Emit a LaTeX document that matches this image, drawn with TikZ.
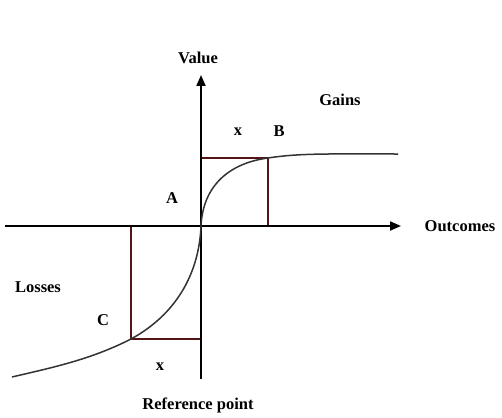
\documentclass[tikz,border=0pt]{standalone}
\usepackage{fontspec}
\setmainfont{Liberation Serif}
\usetikzlibrary{arrows.meta}
\definecolor{boxred}{RGB}{85,20,22}
\begin{document}
\begin{tikzpicture}[x=1pt,y=-1pt,
  lbl/.style={font=\bfseries\fontsize{16.5}{18}\selectfont,inner sep=0pt},
  axis/.style={line width=2pt,-{Triangle[length=11pt,width=9pt]}},
  boxline/.style={line width=2.2pt,boxred},
  curve/.style={line width=1.5pt,black!80}]
\useasboundingbox (0,0) rectangle (502,417);
\coordinate (O) at (201,226);
\coordinate (ybot) at (201,379);
\coordinate (ytop) at (201,75);
\coordinate (xl) at (5,226);
\coordinate (xr) at (401,226);
\coordinate (B) at (268,158);
\coordinate (Bt) at (201,158);
\coordinate (Bb) at (268,226);
\coordinate (C) at (131,339);
\coordinate (Ct) at (131,226);
\coordinate (Cr) at (201,339);
\coordinate (gend) at (398,154);
\coordinate (lend) at (12,377);
% boxes
\draw[boxline] (Bt) -- (B) -- (Bb);
\draw[boxline] (Ct) -- (C) -- (Cr);
% axes
\draw[axis] (xl) -- (xr);
\draw[axis] (ybot) -- (ytop);
% curve
\draw[curve] (lend) .. controls (50,368) and (90,360) .. (C)
  .. controls (175,315) and (199,275) .. (O)
  .. controls (203,185) and (230,163) .. (B)
  .. controls (300,153) and (330,154) .. (gend);
% labels
\node[lbl] (value) at (198,58) {Value};
\node[lbl] (gains) at (340,100) {Gains};
\node[lbl] (x1) at (238,132) {x};
\node[lbl] (bl) at (279,131) {B};
\node[lbl] (al) at (172,198) {A};
\node[lbl] (outc) at (460,226) {Outcomes};
\node[lbl] (loss) at (38,287) {Losses};
\node[lbl] (cl) at (103,320) {C};
\node[lbl] (x2) at (160,367) {x};
\node[lbl] (ref) at (198,405) {Reference point};
\end{tikzpicture}
\end{document}
